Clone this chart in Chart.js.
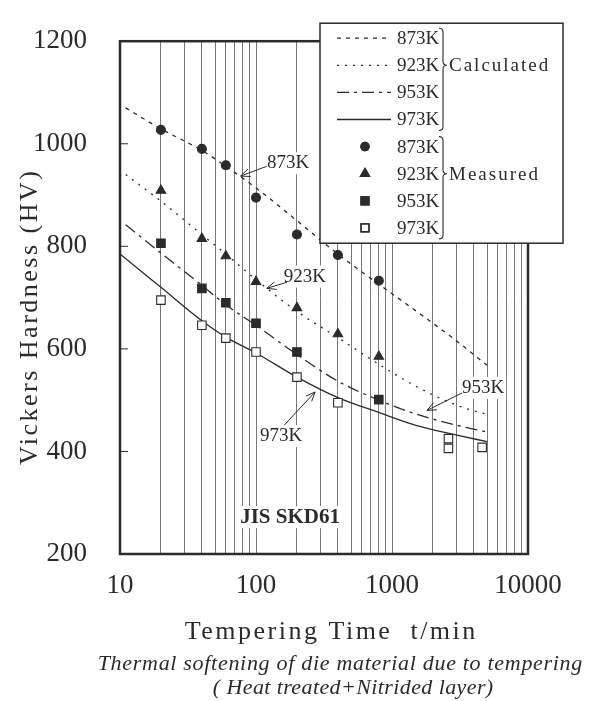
<!DOCTYPE html>
<html>
<head>
<meta charset="utf-8">
<script src="https://cdn.jsdelivr.net/npm/chart.js@4.4.1/dist/chart.umd.min.js"></script>
<style>
html,body{margin:0;padding:0;background:#fff}
#wrap{width:590px;height:701px;position:relative}
</style>
</head>
<body>
<div id="wrap"><canvas id="chart"></canvas></div>
<script>
// Calculated softening curves (tempering time in min, hardness in HV)
const calcTime = [11, 20, 40, 60, 100, 200, 400, 800, 1500, 3000, 5000];
const calc873 = [1070, 1029, 987, 956, 914, 850, 785, 726, 674, 615, 568];
const calc923 = [940, 888, 823, 785, 735, 673, 622, 570, 527, 490, 472];
const calc953 = [842, 787, 724, 686, 646, 589, 537, 500, 473, 451, 438];
const calcTime973 = [10, 20, 40, 60, 100, 200, 400, 800, 1500, 3000, 5000];
const calc973 = [785, 720, 655, 623, 592, 545, 505, 476, 451, 432, 419];

// Measured hardness
const measTime = [20, 40, 60, 100, 200, 400, 800];
const meas873 = [1027, 990, 958, 895, 823, 783, 733];
const meas923 = [909, 815, 781, 731, 680, 629, 585];
const measTime953 = [20, 40, 60, 100, 200, 800];
const meas953 = [806, 718, 690, 650, 594, 501];
const measTime973 = [20, 40, 60, 100, 200, 400, 2600, 2600, 4600];
const meas973 = [695, 646, 621, 594, 545, 495, 425, 406, 408];

// Axis ticks
const yTicks = [200, 400, 600, 800, 1000, 1200];
const xLabels = [10, 100, 1000, 10000];

const ink = '#2b2b2b';
const serif = '"Liberation Serif", "DejaVu Serif", serif';

// log paper grid: 1..9 in every decade
const gridTimes = [];
[10, 100, 1000].forEach(d => { for (let k = 1; k < 10; k++) gridTimes.push(k * d); });
gridTimes.push(10000);

const pts = (xs, ys) => xs.map((x, i) => ({x, y: ys[i]}));
const curve = (label, xs, ys, dash) => ({
  label, data: pts(xs, ys), showLine: true, borderColor: ink, borderWidth: 1.3,
  borderDash: dash, pointRadius: 0, cubicInterpolationMode: 'monotone', order: 2
});
const marks = (label, xs, ys, style, r, fill) => ({
  label, data: pts(xs, ys), showLine: false, pointStyle: style, pointRadius: r,
  pointBackgroundColor: fill, pointBorderColor: ink, pointBorderWidth: 1.1, order: 1
});

const datasets = [
  curve('873K', calcTime, calc873, [4, 5]),
  curve('923K', calcTime, calc923, [2, 6]),
  curve('953K', calcTime, calc953, [12, 5, 3, 5]),
  curve('973K', calcTime973, calc973, []),
  marks('873K', measTime, meas873, 'circle', 4.5, ink),
  marks('923K', measTime, meas923, 'triangle', 5.5, ink),
  marks('953K', measTime953, meas953, 'rect', 6, ink),
  marks('973K', measTime973, meas973, 'rect', 6, '#fff')
];

// arrow callouts, in data units (time, HV)
const callouts = [
  {text: '873K', tip: [77, 937], tail: [120, 956], at: [172, 962]},
  {text: '923K', tip: [120, 718], tail: [169, 730], at: [229, 741]},
  {text: '953K', tip: [1807, 480], tail: [3270, 514], at: [4670, 524]},
  {text: '973K', tip: [272, 516], tail: [161, 451], at: [153, 430]}
];

function arrow(ctx, x1, y1, x2, y2) {
  const ang = Math.atan2(y2 - y1, x2 - x1), h = 10;
  ctx.beginPath();
  ctx.moveTo(x1, y1); ctx.lineTo(x2, y2);
  ctx.moveTo(x2 - h * Math.cos(ang - 0.4), y2 - h * Math.sin(ang - 0.4));
  ctx.lineTo(x2, y2);
  ctx.lineTo(x2 - h * Math.cos(ang + 0.4), y2 - h * Math.sin(ang + 0.4));
  ctx.stroke();
}

function brace(ctx, x, y1, y2, ym) {
  const w = 4;
  ctx.beginPath();
  ctx.moveTo(x, y1);
  ctx.quadraticCurveTo(x + w, y1, x + w, y1 + w);
  ctx.lineTo(x + w, ym - w);
  ctx.quadraticCurveTo(x + w, ym, x + 2 * w, ym);
  ctx.quadraticCurveTo(x + w, ym, x + w, ym + w);
  ctx.lineTo(x + w, y2 - w);
  ctx.quadraticCurveTo(x + w, y2, x, y2);
  ctx.stroke();
}

function boxedText(ctx, text, cx, cy) {
  const w = ctx.measureText(text).width;
  ctx.fillStyle = '#fff';
  ctx.fillRect(cx - w / 2 - 2, cy - 11, w + 4, 22);
  ctx.fillStyle = ink;
  ctx.fillText(text, cx, cy);
}

// spaced-out text, as the typeset figure has it
function spaced(ctx, text, cx, cy, gap) {
  ctx.letterSpacing = gap + 'px';
  ctx.fillText(text, cx + (ctx.textAlign === 'center' ? gap / 2 : 0), cy);
  ctx.letterSpacing = '0px';
}

const decor = {
  id: 'decor',
  afterDraw(chart) {
    const {ctx, chartArea: a, scales: {x, y}} = chart;
    const px = p => [x.getPixelForValue(p[0]), y.getPixelForValue(p[1])];
    ctx.save();
    ctx.strokeStyle = ink;
    ctx.fillStyle = ink;

    // frame
    ctx.lineWidth = 2.5;
    ctx.strokeRect(a.left, a.top, a.right - a.left, a.bottom - a.top);

    // inward ticks on the hardness axis
    ctx.lineWidth = 1;
    yTicks.slice(1, -1).forEach(v => {
      const py = y.getPixelForValue(v);
      ctx.beginPath(); ctx.moveTo(a.left, py); ctx.lineTo(a.left + 8, py); ctx.stroke();
    });

    // callouts
    ctx.font = '19px ' + serif;
    ctx.textAlign = 'center';
    ctx.textBaseline = 'middle';
    callouts.forEach(c => {
      const [tx, ty] = px(c.at);
      boxedText(ctx, c.text, tx, ty);
      const [x1, y1] = px(c.tail), [x2, y2] = px(c.tip);
      arrow(ctx, x1, y1, x2, y2);
    });

    // material name
    ctx.font = 'bold 21px ' + serif;
    const [jx, jy] = px([178, 272]);
    boxedText(ctx, 'JIS SKD61', jx, jy);

    // legend box
    const x0 = a.left + 200, y0 = a.top - 18, w = 243, h = 220;
    ctx.fillStyle = '#fff';
    ctx.fillRect(x0, y0, w, h);
    ctx.lineWidth = 1.5;
    ctx.strokeRect(x0, y0, w, h);
    ctx.font = '19px ' + serif;
    ctx.textAlign = 'left';
    ctx.fillStyle = ink;
    const rowY = i => y0 + 15 + i * 27.1;
    datasets.forEach((ds, i) => {
      const ry = rowY(i);
      if (ds.showLine) {
        ctx.save();
        ctx.lineWidth = ds.borderWidth;
        ctx.setLineDash(ds.borderDash);
        ctx.beginPath(); ctx.moveTo(x0 + 17, ry); ctx.lineTo(x0 + 71, ry); ctx.stroke();
        ctx.restore();
      } else {
        Chart.helpers.drawPoint(ctx, {
          pointStyle: ds.pointStyle, radius: ds.pointRadius - 0.5, borderWidth: 1.1
        }, x0 + 45, ry);
        ctx.save();
        ctx.fillStyle = ds.pointBackgroundColor;
        ctx.fill();
        ctx.restore();
        ctx.stroke();
      }
      ctx.fillText(ds.label, x0 + 77, ry + 1);
    });
    ctx.lineWidth = 1.1;
    brace(ctx, x0 + 119, rowY(0) - 10, rowY(3) + 11, rowY(1));
    brace(ctx, x0 + 119, rowY(4) - 10, rowY(7) + 11, rowY(5));
    spaced(ctx, 'Calculated', x0 + 129, rowY(1) + 1, 2);
    spaced(ctx, 'Measured', x0 + 129, rowY(5) + 1, 2);

    // axis titles and caption
    ctx.textAlign = 'center';
    ctx.font = '26px ' + serif;
    spaced(ctx, 'Tempering Time  t/min', 330, 632, 2.5);
    ctx.save();
    ctx.translate(30, 318);
    ctx.rotate(-Math.PI / 2);
    spaced(ctx, 'Vickers Hardness (HV)', 0, 0, 2.5);
    ctx.restore();
    ctx.font = 'italic 22px ' + serif;
    spaced(ctx, 'Thermal softening of die material due to tempering', 340, 664, 0.7);
    spaced(ctx, '( Heat treated+Nitrided layer)', 353, 688, 0.4);
    ctx.restore();
  }
};

new Chart(document.getElementById('chart'), {
  type: 'scatter',
  data: {datasets},
  plugins: [decor],
  options: {
    responsive: true, maintainAspectRatio: false, animation: false, events: [],
    layout: {padding: {left: 0, right: 62, top: 30, bottom: 0}},
    plugins: {legend: {display: false}, tooltip: {enabled: false}},
    scales: {
      x: {
        type: 'logarithmic', min: 10, max: 10000,
        afterBuildTicks: s => { s.ticks = gridTimes.map(v => ({value: v})); },
        afterFit: s => { s.height = 147; },
        grid: {color: '#777', lineWidth: 1, drawTicks: false},
        border: {display: false},
        ticks: {
          autoSkip: false, maxRotation: 0, padding: 16, color: ink,
          font: {family: serif, size: 27},
          callback: v => xLabels.includes(v) ? String(v) : ''
        }
      },
      y: {
        min: 200, max: 1200,
        afterBuildTicks: s => { s.ticks = yTicks.map(v => ({value: v})); },
        afterFit: s => { s.width = 120; },
        grid: {display: false},
        border: {display: false},
        ticks: {padding: 25, color: ink, font: {family: serif, size: 27}, callback: v => String(v)}
      }
    }
  }
});
</script>
</body>
</html>
